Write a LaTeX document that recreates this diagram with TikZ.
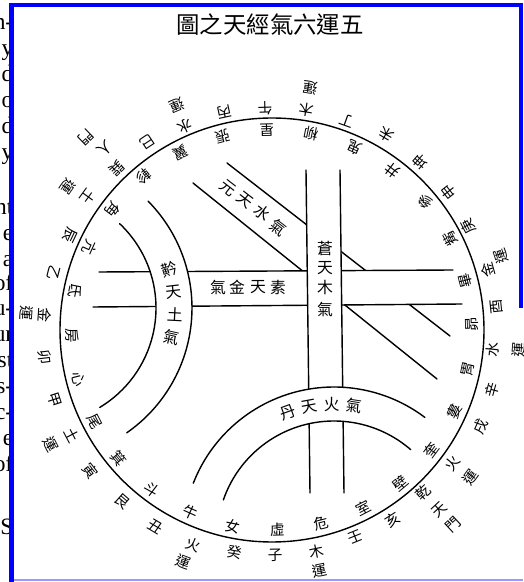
\documentclass[tikz,border=0pt]{standalone}
\usepackage{fontspec}
\newfontfamily\cjk{Noto Sans CJK TC}
\newfontfamily\margenfont{Liberation Serif}
\tikzset{
  ring/.style={font=\cjk\fontsize{12.5}{12.5}\selectfont, inner sep=0pt},
  band/.style={font=\cjk\fontsize{13.5}{13.5}\selectfont, inner sep=0pt},
  margen/.style={font=\margenfont\fontsize{20}{20}\selectfont, anchor=base east, inner sep=0pt}
}
\begin{document}
\begin{tikzpicture}[x=0.03cm, y=0.03cm, line width=1.2pt, line cap=round, line join=round]
  \useasboundingbox (0,0) rectangle (523,582);
  % el texto cortado a la izquierda
  \foreach \y/\t in {552/n-, 526/y, 500/d, 474/o, 448/d, 422/y,
                     367/nt, 341/e, 315/a, 291/of, 266/u-, 240/ur, 214/st,
                     188/s-, 162/c-, 136/e, 110/of, 47/S}
    \node[margen] at (14,\y) {\t};
  % el marco
  \fill[blue] (9,0) rectangle (14,579);
  \fill[blue] (9,575) rectangle (523,579);
  \fill[blue] (519,274) rectangle (523,579);
  \fill[blue!40] (14,1) rectangle (523,3);
  % el titulo
  \node[font=\cjk\fontsize{20}{20}\selectfont, inner sep=0pt] (titulo) at (270,557) {圖之天經氣六運五};
  % el circulo
  \draw (272,252) circle (212);
  %玄天水氣
  \draw (227,419) -- (450,246);
  \draw (193,399) -- (437,203);
  % 素天金氣
  \fill[white] (99,310) -- (453,312) -- (462,278) -- (93,275) -- cycle;
  \draw (99,310) -- (453,312); \draw (93,275) -- (462,278);
  % 蒼天木氣
  \fill[white] (306,412) -- (340,412) -- (344,89) -- (310,89) -- cycle;
  \draw (306,412) -- (310,89); \draw (340,412) -- (344,89);
  % 黅天土氣
  \fill[white] ([shift={(44.7:152)}]40,274) arc[start angle=44.7, end angle=-55.2, radius=152]
    -- ([shift={(-59:116)}]40,274) arc[start angle=-59, end angle=46.7, radius=116] -- cycle;
  \draw ([shift={(44.7:152)}]40,274) arc[start angle=44.7, end angle=-55.2, radius=152];
  \draw ([shift={(46.7:116)}]40,274) arc[start angle=46.7, end angle=-59, radius=116];
  % 丹天火氣
  \fill[white] ([shift={(158.7:151)}]334,44) arc[start angle=158.7, end angle=53, radius=151]
    -- ([shift={(49:117)}]334,44) arc[start angle=49, end angle=161, radius=117] -- cycle;
  \draw ([shift={(158.7:151)}]334,44) arc[start angle=158.7, end angle=53, radius=151];
  \draw ([shift={(161:117)}]334,44) arc[start angle=161, end angle=49, radius=117];
  % los textos de las bandas
  \foreach \y/\t in {334/蒼, 314/天, 294/木, 273/氣} \node[band] at (325,\y) {\t};
  \foreach \x/\t in {278/素, 258/天, 237/金, 218/氣} \node[band] at (\x,295) {\t};
  \foreach \x/\y/\t in {228/394/元, 245/382/天, 262/369/水, 278/354/氣}
    \node[band, rotate=-37.7] at (\x,\y) {\t};
  \foreach \a/\t in {16.5/黅, 6.8/天, -2.9/土, -12.6/氣}
    \node[band, rotate=\a] at ([shift={(\a:135)}]40,274) {\t};
  \foreach \a/\t in {110/丹, 100.5/天, 91/火, 81.5/氣}
    \node[band, rotate=\a-90] at ([shift={(\a:134)}]334,44) {\t};
  % los veintiocho sus
  \foreach \t [count=\k from 0] in {昴,畢,觜,參,井,鬼,柳,星,張,翼,軫,角,亢,氐,
                                     房,心,尾,箕,斗,牛,女,虛,危,室,壁,奎,婁,胃}
    \node[ring, rotate=1.5+12.857*\k+90] at ([shift={(1.5+12.857*\k:200)}]272,252) {\t};
  % el anillo de fuera
  \foreach \a/\r/\t in {91.8/222/午, 81/223/木, 81/245/運, 70.2/222/丁, 59.7/226/未,
      48.6/224/坤, 38.1/224/申, 27.8/222/庚, 15.5/224/金, 17.8/240/運, 5.8/226/酉,
      -5.2/222/水, -4.6/247/運, -15.3/228/辛, -24.8/230/戌, -36.5/224/火, -36.6/247/運,
      -47.2/222/乾, -47/246/天, -47.1/266/門, -57.5/225/亥, -68.1/223/壬,
      -78.5/226/木, -78.7/245/運, -89.2/225/子, -99.5/225/癸, -110.2/229/火, -111/248/運,
      -120.7/229/丑, -131.1/228/艮, -142.3/230/寅, -152.3/226/土, -152.6/249/運,
      -162.1/228/甲, -173.2/229/卯, 176.3/228/金, 176/246/運, 165.4/226/乙, 154.8/223/辰,
      144.1/227/土, 145/249/運, 133.7/224/巽, 132.6/247/人, 134/268/門, 123.6/226/巳,
      113.2/221/水, 112.9/244/運, 102.2/223/丙}
    \node[ring, rotate=\a+90] at ([shift={(\a:\r)}]272,252) {\t};
\end{tikzpicture}
\end{document}
